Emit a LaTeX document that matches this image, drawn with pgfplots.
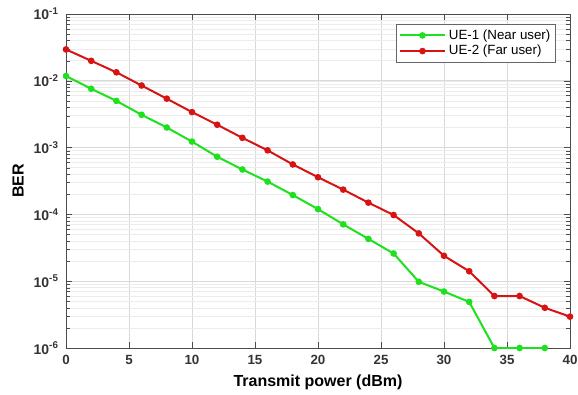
\documentclass[border=0pt]{standalone}
\usepackage{pgfplots}
\pgfplotsset{compat=1.18}
\usepackage{fontspec}
\setmainfont{Liberation Sans}
\definecolor{ugreen}{RGB}{30,225,30}
\definecolor{ured}{RGB}{215,20,20}
\begin{document}
\begin{tikzpicture}[x=0.75pt,y=0.75pt]
\useasboundingbox (-66,-46) rectangle (512,348);
\begin{axis}[
  at={(0,0)}, anchor=south west,
  scale only axis,
  width=378pt, height=250.5pt,
  ymode=log,
  xmin=0, xmax=40, ymin=1e-6, ymax=1e-1,
  xtick={0,5,...,40},
  ytick={1e-6,1e-5,1e-4,1e-3,1e-2,1e-1},
  yticklabels={\textbf{10}\textsuperscript{\textbf{-6}},\textbf{10}\textsuperscript{\textbf{-5}},\textbf{10}\textsuperscript{\textbf{-4}},\textbf{10}\textsuperscript{\textbf{-3}},\textbf{10}\textsuperscript{\textbf{-2}},\textbf{10}\textsuperscript{\textbf{-1}}},
  /pgf/number format/assume math mode=true,
  xticklabel style={font=\fontsize{10}{12}\selectfont\bfseries, color=black!80, yshift=-2pt},
  yticklabel style={font=\fontsize{10.5}{12}\selectfont, color=black!80, xshift=-2pt},
  xlabel={\textbf{Transmit power (dBm)}},
  ylabel={\textbf{BER}},
  label style={font=\fontsize{12}{14}\selectfont},
  xlabel style={at={(axis description cs:0.5,0)}, anchor=center, yshift=-25.5pt},
  ylabel style={at={(axis description cs:0,0.5)}, anchor=center, yshift=36pt},
  grid=both,
  major grid style={gray!30, line width=0.5pt},
  minor grid style={gray!15, line width=0.4pt},
  axis line style={black!70, line width=0.7pt},
  tick style={black!70},
  legend style={at={(axis cs:40,1e-1)}, anchor=north east, xshift=-10.5pt, yshift=-7.5pt, font=\fontsize{10}{12}\selectfont, draw=black!60, fill=white, inner sep=2pt, row sep=-1pt, legend cell align=left},
  legend image code/.code={\draw[mark repeat=2,mark phase=2] plot coordinates {(0cm,0cm) (0.6cm,0cm) (1.2cm,0cm)};},
]
\addplot[color=ugreen, line width=1.5pt, mark=*, mark size=1.7pt, mark options={fill=ugreen}] coordinates {
(0,0.0118) (2,0.0076) (4,0.0050) (6,0.0031) (8,0.0020) (10,0.00123)
(12,7.3e-4) (14,4.7e-4) (16,3.1e-4) (18,1.95e-4) (20,1.2e-4) (22,7.1e-5)
(24,4.3e-5) (26,2.6e-5) (28,9.8e-6) (30,7.0e-6) (32,4.9e-6) (34,1e-6)
(36,1e-6) (38,1e-6)};
\addlegendentry{UE-1 (Near user)}
\addplot[color=ured, line width=1.5pt, mark=*, mark size=1.7pt, mark options={fill=ured}] coordinates {
(0,0.0295) (2,0.0199) (4,0.0134) (6,0.0085) (8,0.0054) (10,0.0034)
(12,0.0022) (14,0.00140) (16,9.1e-4) (18,5.6e-4) (20,3.6e-4) (22,2.35e-4)
(24,1.5e-4) (26,9.8e-5) (28,5.2e-5) (30,2.4e-5) (32,1.41e-5) (34,6.0e-6)
(36,6.0e-6) (38,4.0e-6) (40,2.95e-6)};
\addlegendentry{UE-2 (Far user)}
\end{axis}
\end{tikzpicture}
\end{document}
